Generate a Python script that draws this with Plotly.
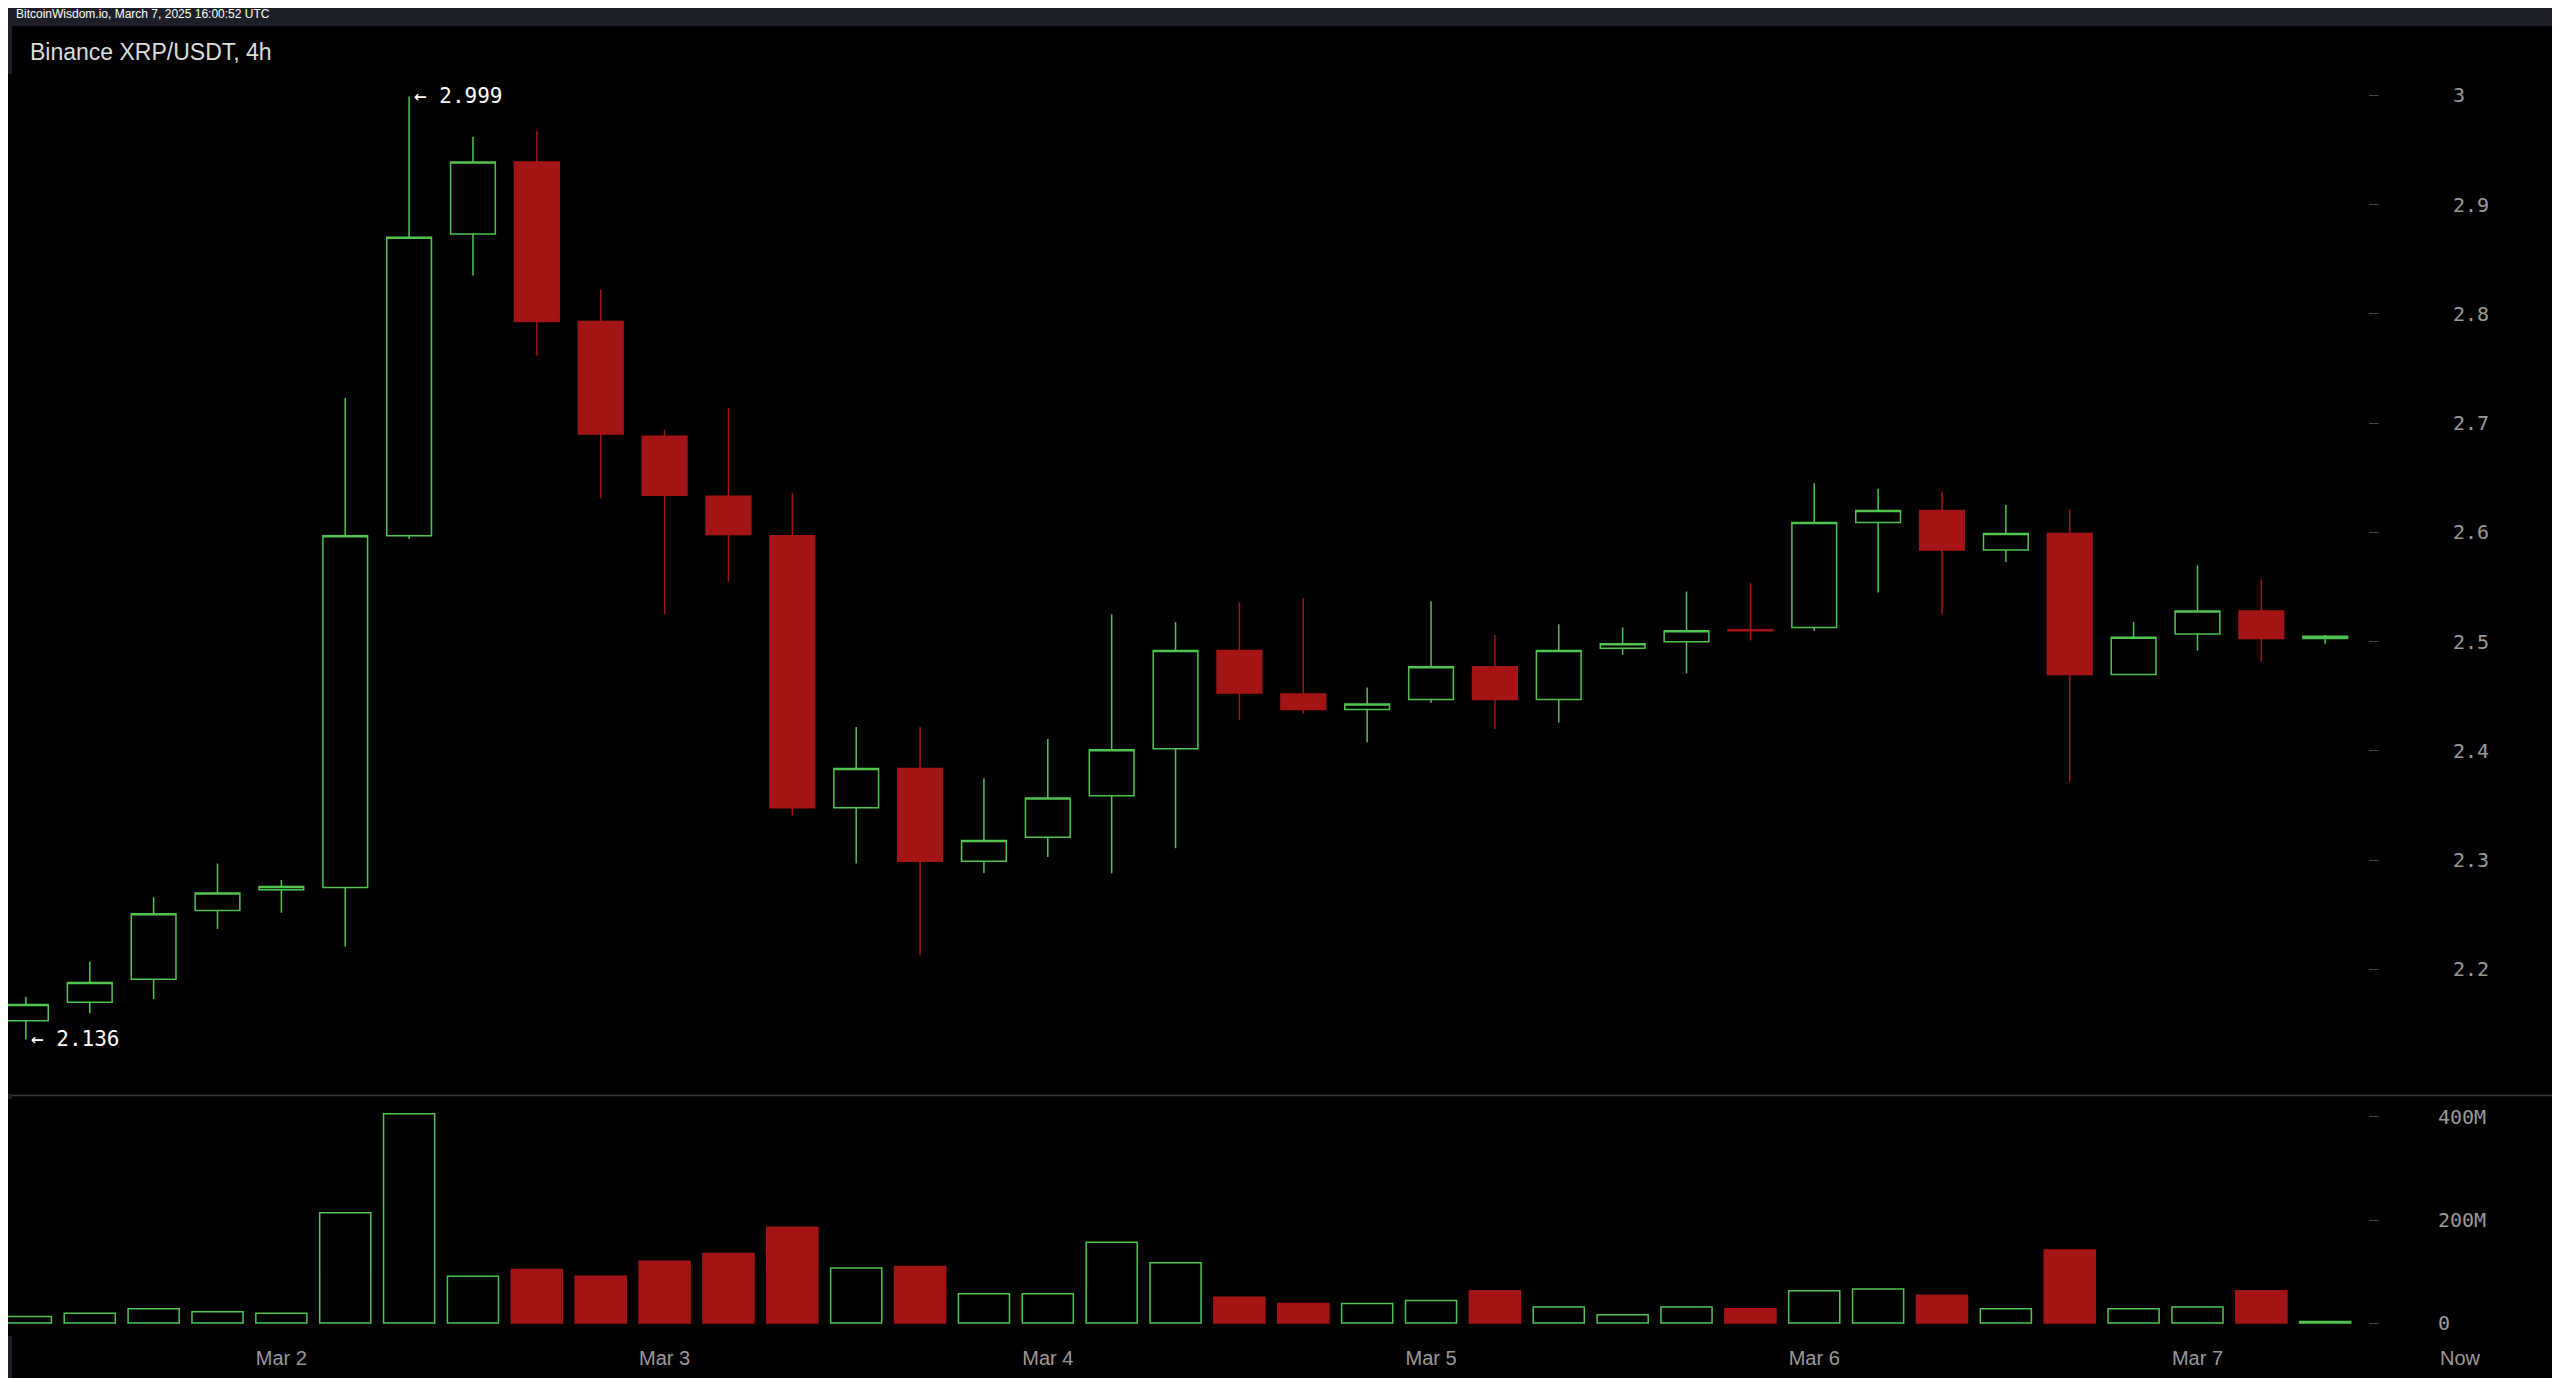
import plotly.graph_objects as go

opens  = [2.153,2.170,2.191,2.254,2.273,2.275,2.597,2.873,2.939,2.793,2.688,2.633,2.597,2.348,2.384,2.299,2.321,2.359,2.402,2.492,2.452,2.438,2.447,2.477,2.447,2.494,2.500,2.511,2.513,2.609,2.620,2.584,2.599,2.470,2.507,2.528,2.503]
highs  = [2.175,2.207,2.266,2.297,2.282,2.723,2.999,2.962,2.967,2.822,2.694,2.714,2.636,2.422,2.422,2.375,2.411,2.525,2.518,2.536,2.540,2.458,2.537,2.506,2.516,2.513,2.546,2.554,2.645,2.640,2.637,2.625,2.621,2.518,2.570,2.557,2.506]
lows   = [2.136,2.160,2.173,2.237,2.252,2.221,2.594,2.835,2.762,2.631,2.525,2.555,2.341,2.297,2.213,2.288,2.303,2.288,2.311,2.428,2.434,2.408,2.444,2.420,2.426,2.488,2.471,2.501,2.510,2.545,2.525,2.573,2.372,2.470,2.492,2.482,2.498]
closes = [2.168,2.188,2.251,2.270,2.276,2.597,2.870,2.939,2.793,2.690,2.634,2.598,2.348,2.384,2.299,2.318,2.357,2.401,2.492,2.453,2.438,2.443,2.477,2.447,2.492,2.498,2.510,2.510,2.609,2.620,2.584,2.599,2.470,2.504,2.528,2.503,2.505]
volumes_m = [13,19,28,22,19,214,406,91,104,91,120,135,186,107,110,57,57,157,117,50,38,38,44,63,31,16,31,28,63,66,54,28,142,28,31,63,3]
tick_idx = [4,10,16,22,28,34]
tick_labels = ["Mar 2","Mar 3","Mar 4","Mar 5","Mar 6","Mar 7"]

GREEN = "#4fc44f"; RED = "#a31414"; GREY = "#9a9a9a"
n = len(opens)
idx = list(range(n))

fig = go.Figure()
fig.add_trace(go.Candlestick(x=idx, open=opens, high=highs, low=lows, close=closes,
    increasing=dict(line=dict(color=GREEN, width=1.5), fillcolor="black"),
    decreasing=dict(line=dict(color=RED, width=1.5), fillcolor=RED),
    whiskerwidth=0, xaxis="x", yaxis="y", showlegend=False, hoverinfo="skip"))
up = [c >= o for o, c in zip(opens, closes)]
fig.add_trace(go.Bar(x=idx, y=[v*1e6 for v in volumes_m], width=0.8,
    marker=dict(color=["black" if u else RED for u in up],
                line=dict(color=[GREEN if u else RED for u in up], width=1.5)),
    xaxis="x2", yaxis="y2", showlegend=False, hoverinfo="skip"))

W, H = 2560, 1378
L, R, T, B = 0, 200, 66, 50
pw, ph = W - L - R, H - T - B
def px(x): return (x - L) / pw
def py(y): return (H - B - y) / ph
s = 1.633
XR = [-0.28, 36.67]

fig.update_layout(
    width=W, height=H, margin=dict(l=L, r=R, t=T, b=B), boxgap=0.0,
    paper_bgcolor="#1c1f27", plot_bgcolor="black",
    xaxis=dict(range=XR, domain=[0, 1], showgrid=False, showticklabels=False,
               zeroline=False, rangeslider=dict(visible=False), anchor="y"),
    xaxis2=dict(range=XR, domain=[0, 1], showgrid=False, zeroline=False,
                tickvals=tick_idx, ticktext=tick_labels, ticks="", anchor="y2", matches="x",
                ticklabelstandoff=8,
                tickfont=dict(color=GREY, size=20, family="Liberation Sans")),
    yaxis=dict(domain=[py(665*s), 1], range=[2.0861, 3.0195], side="right", showgrid=False,
               zeroline=False, tickvals=[2.2,2.3,2.4,2.5,2.6,2.7,2.8,2.9,3], ticktext=["2.2","2.3","2.4","2.5","2.6","2.7","2.8","2.9","3"],
               ticks="outside", ticklen=10, tickcolor="#444", ticklabelstandoff=70,
               tickfont=dict(color=GREY, size=20, family="DejaVu Sans Mono"), anchor="x"),
    yaxis2=dict(domain=[0, py(668*s)], range=[-25e6, 435e6], side="right", showgrid=False,
                zeroline=False, tickvals=[0, 200e6, 400e6], ticktext=["0", "200M", "400M"],
                ticks="outside", ticklen=10, tickcolor="#444", ticklabelstandoff=55,
                tickfont=dict(color=GREY, size=20, family="DejaVu Sans Mono"), anchor="x2"),
    shapes=[
        dict(type="rect", xref="paper", yref="paper", x0=px(4), x1=px(W-5), y0=py(H-6), y1=py(18),
             fillcolor="black", line=dict(width=0), layer="below"),
        dict(type="line", xref="paper", yref="paper", x0=px(4), x1=px(W-5), y0=py(666*s), y1=py(666*s),
             line=dict(color="#3a3a3a", width=1.5)),
    ],
    annotations=[
        dict(text="BitcoinWisdom.io, March 7, 2025 16:00:52 UTC", xref="paper", yref="paper",
             x=px(6), y=py(6), xanchor="left", yanchor="middle", showarrow=False,
             font=dict(color="white", size=12, family="Liberation Sans")),
        dict(text="Binance XRP/USDT, 4h", xref="paper", yref="paper", x=px(20), y=py(44),
             xanchor="left", yanchor="middle", showarrow=False,
             font=dict(color="#dddddd", size=23, family="Liberation Sans")),
        dict(text="← %.3f" % max(highs), x=highs.index(max(highs)) + 0.05, y=max(highs), xref="x", yref="y",
             xanchor="left", yanchor="middle", showarrow=False,
             font=dict(color="white", size=21, family="DejaVu Sans Mono")),
        dict(text="← %.3f" % min(lows), x=lows.index(min(lows)) + 0.05, y=min(lows), xref="x", yref="y",
             xanchor="left", yanchor="middle", showarrow=False,
             font=dict(color="white", size=21, family="DejaVu Sans Mono")),
        dict(text="Now", xref="paper", yref="paper", x=px(1502*s), y=py(827*s),
             xanchor="center", yanchor="middle", showarrow=False,
             font=dict(color=GREY, size=20, family="Liberation Sans")),
    ],
)
fig.write_html("out.html")
